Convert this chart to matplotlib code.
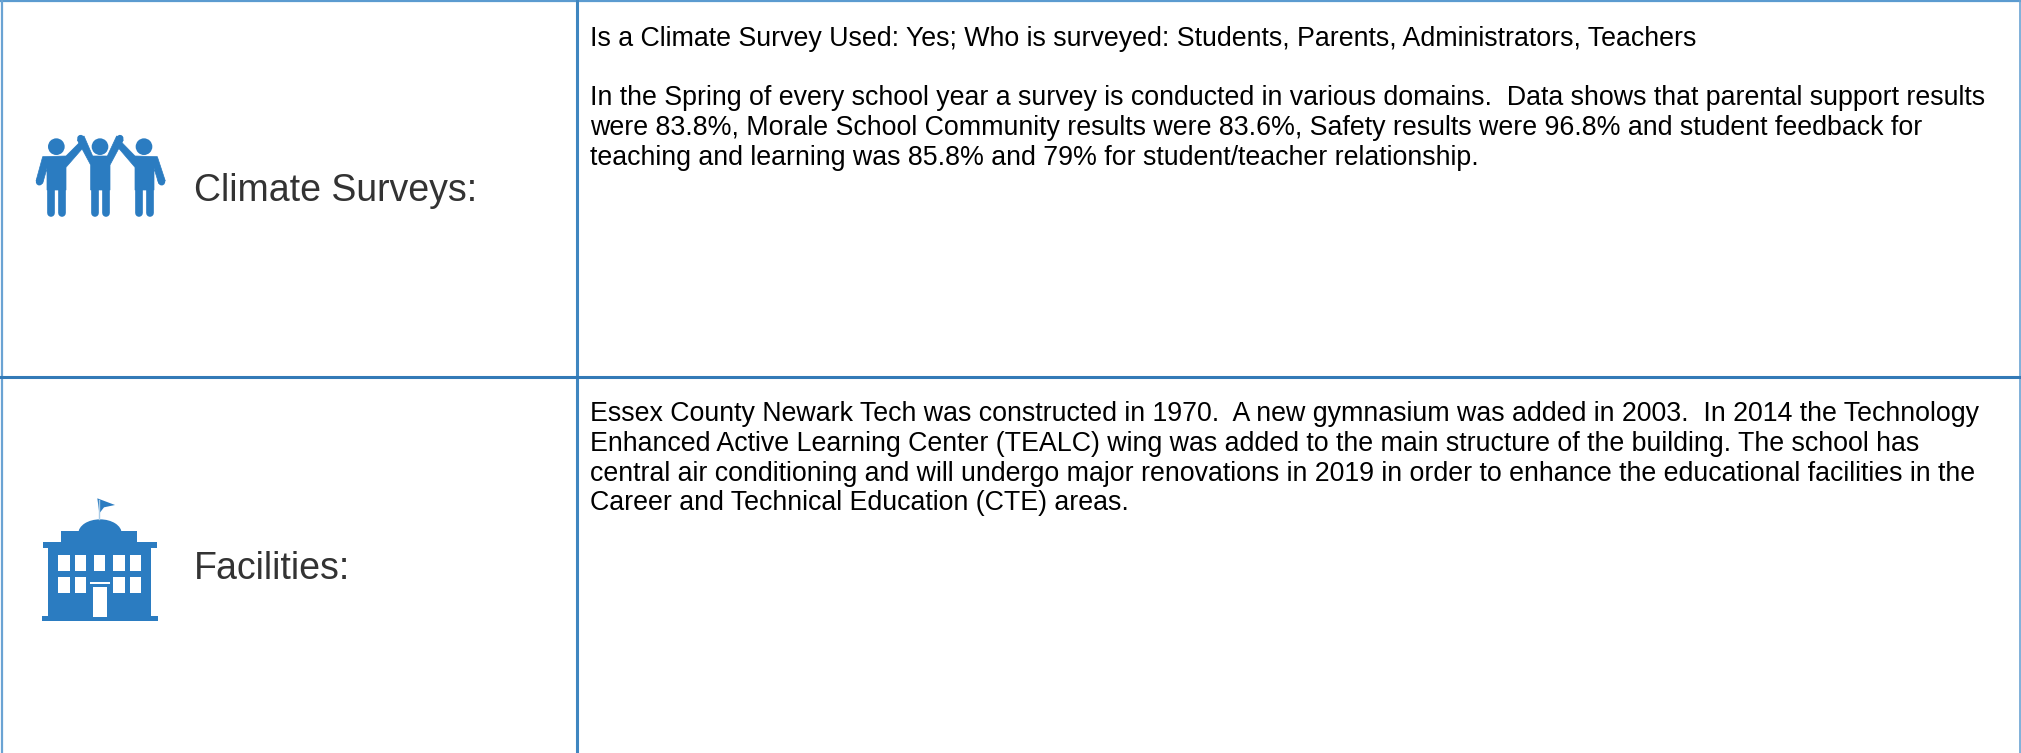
import matplotlib
matplotlib.use("Agg")
import matplotlib.pyplot as plt
from matplotlib.patches import Rectangle, Circle, Polygon, Ellipse

# --- Table content ---
ROW_LABELS = ["Climate Surveys:", "Facilities:"]
CLIMATE_LINES = [
    "Is a Climate Survey Used: Yes; Who is surveyed: Students, Parents, Administrators, Teachers",
    "",
    "In the Spring of every school year a survey is conducted in various domains.  Data shows that parental support results",
    "were 83.8%, Morale School Community results were 83.6%, Safety results were 96.8% and student feedback for",
    "teaching and learning was 85.8% and 79% for student/teacher relationship.",
]
FACILITY_LINES = [
    "Essex County Newark Tech was constructed in 1970.  A new gymnasium was added in 2003.  In 2014 the Technology",
    "Enhanced Active Learning Center (TEALC) wing was added to the main structure of the building. The school has",
    "central air conditioning and will undergo major renovations in 2019 in order to enhance the educational facilities in the",
    "Career and Technical Education (CTE) areas.",
]

W, H = 2021, 753
BLUE = "#2b7cc1"
LINE = "#337ab7"


def draw_people(ax):
    # coordinates taken from a 3x crop with its origin at (0, 100)
    def x(v):
        return v / 3
    def y(v):
        return 100 + v / 3
    def poly(pts):
        ax.add_patch(Polygon([(x(a), y(b)) for a, b in pts], fc=BLUE, ec=BLUE, lw=0.5))
    def limb(a, b, c, d, w):
        ax.plot([x(a), x(c)], [y(b), y(d)], color=BLUE, lw=w * 0.72 / 3, solid_capstyle="round")

    for cx in (169, 300, 432):
        ax.add_patch(Circle((x(cx), y(140)), 25 / 3, fc=BLUE, ec="none"))
    # left and right figures, arm included
    poly([(128, 170), (198, 168), (238, 128), (252, 140), (198, 202), (198, 270),
          (141, 270), (141, 205), (128, 250), (108, 243)])
    poly([(472, 170), (405, 168), (366, 128), (352, 140), (405, 202), (405, 270),
          (462, 270), (462, 205), (476, 250), (496, 243)])
    # middle figure, both arms raised
    poly([(232, 120), (272, 195), (272, 270), (330, 270), (330, 195), (370, 120),
          (350, 108), (322, 168), (278, 168), (252, 108)])
    # legs
    for a in (152, 186, 284, 318, 416, 450):
        limb(a, 262, a, 339, 23)
    limb(118, 246, 120, 240, 21)
    limb(485, 246, 483, 240, 21)
    limb(242, 115, 244, 120, 21)
    limb(360, 115, 358, 120, 21)


def draw_building(ax):
    def x(v):
        return 20 + v / 3
    def y(v):
        return 480 + v / 3
    def rect(x0, y0, x1, y1, color=BLUE):
        ax.add_patch(Rectangle((x(x0), y(y0)), (x1 - x0) / 3, (y1 - y0) / 3, fc=color, ec="none"))

    rect(85, 200, 393, 410)
    rect(66, 407, 414, 423)
    rect(68, 187, 410, 204)
    rect(124, 153, 352, 190)
    ax.add_patch(Ellipse((x(240), y(160)), 130 / 3, 84 / 3, fc=BLUE, ec="none"))
    ax.plot([x(237), x(237)], [y(60), y(118)], color="#a9cbe6", lw=1.0)
    ax.add_patch(Polygon([(x(a), y(b)) for a, b in [(232, 55), (285, 75), (252, 82), (238, 100)]],
                         fc=BLUE, ec="none"))
    for a, b in [(115, 149), (164, 198), (222, 256), (280, 314), (329, 363)]:
        rect(a, 224, b, 272, "white")
    for a, b in [(115, 149), (164, 198), (280, 314), (329, 363)]:
        rect(a, 290, b, 340, "white")
    rect(218, 320, 260, 410, "white")
    rect(210, 306, 270, 313, "white")


fig = plt.figure(figsize=(W / 100, H / 100), dpi=100)
ax = fig.add_axes([0, 0, 1, 1])
ax.set_xlim(0, W)
ax.set_ylim(H, 0)
ax.axis("off")

# table grid
ax.plot([0, W], [0.5, 0.5], color="#5b9bd0", lw=1.6)
ax.plot([1.5, 1.5], [0, H], color="#6aa3d3", lw=1.6)
ax.plot([W - 1, W - 1], [0, H], color="#6aa3d3", lw=1.2)
ax.plot([577.2, 577.2], [0, H], color="#3f86c0", lw=2.2)
ax.plot([0, W], [377.4, 377.4], color=LINE, lw=2.2)

draw_people(ax)
draw_building(ax)

plt.rcParams["font.family"] = ["Liberation Sans", "DejaVu Sans"]
for label, base in zip(ROW_LABELS, (201, 579)):
    ax.text(194, base, label, fontsize=27, color="#333333", va="baseline", ha="left")

for i, line in enumerate(CLIMATE_LINES[:1]):
    ax.text(590, 46, line, fontsize=19.3, color="black", va="baseline")
for i, line in enumerate(CLIMATE_LINES[2:]):
    ax.text(590, 105 + i * 30, line, fontsize=19.3, color="black", va="baseline")
for i, line in enumerate(FACILITY_LINES):
    ax.text(590, 420.5 + i * 30, line, fontsize=19.3, color="black", va="baseline")

fig.savefig("out.png", dpi=100)
